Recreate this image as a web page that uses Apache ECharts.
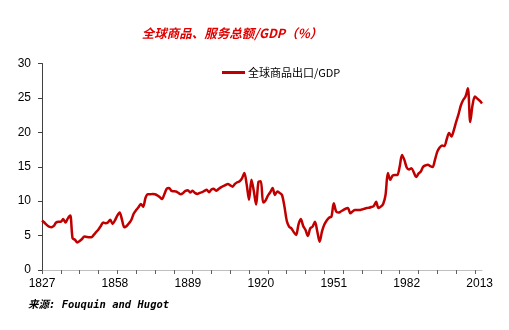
<!DOCTYPE html>
<html>
<head>
<meta charset="utf-8">
<style>html,body{margin:0;padding:0;background:#fff;}#c{width:509px;height:330px;}</style>
<script src="https://cdn.jsdelivr.net/npm/echarts@6/dist/echarts.min.js"></script>
</head>
<body>
<div id="c"></div>
<script>
const years = [];
for (let y = 1827; y <= 2014; y++) years.push(String(y));

const exportsToGDP = [
  // 1827-1836
  7.2, 6.9, 6.55, 6.3, 6.2, 6.4, 6.9, 7.0, 7.0, 7.4,
  // 1837-1846
  6.9, 7.5, 7.9, 4.6, 4.4, 4.0, 4.2, 4.5, 4.85, 4.8,
  // 1847-1856
  4.75, 4.75, 5.1, 5.5, 5.9, 6.4, 6.9, 6.8, 6.9, 7.3,
  // 1857-1866
  6.7, 7.2, 7.9, 8.35, 7.3, 6.2, 6.4, 6.8, 7.3, 8.2,
  // 1867-1876
  8.7, 9.1, 9.6, 9.2, 10.5, 11.0, 11.0, 11.05, 11.0, 10.85,
  // 1877-1886
  10.6, 10.3, 11.0, 11.8, 11.9, 11.5, 11.45, 11.4, 11.2, 11.0,
  // 1887-1896
  11.2, 11.5, 11.6, 11.25, 11.5, 11.2, 11.05, 11.2, 11.3, 11.5,
  // 1897-1906
  11.65, 11.3, 11.7, 11.8, 11.5, 11.75, 12.0, 12.2, 12.35, 12.5,
  // 1907-1916
  12.3, 12.1, 12.5, 12.75, 12.9, 13.3, 14.1, 12.4, 10.2, 13.1,
  // 1917-1926
  11.5, 9.5, 12.8, 12.9, 9.8, 10.1, 10.8, 11.3, 11.9, 10.9,
  // 1927-1936
  11.4, 11.2, 10.9, 9.3, 7.2, 6.3, 6.05, 5.5, 5.1, 6.6,
  // 1937-1946
  7.4, 6.4, 5.8, 4.95, 6.05, 6.3, 7.0, 5.6, 4.1, 5.6,
  // 1947-1956
  6.6, 7.2, 7.6, 7.75, 9.7, 8.5, 8.35, 8.5, 8.7, 8.9,
  // 1957-1966
  9.0, 8.25, 8.5, 8.7, 8.7, 8.7, 8.8, 8.9, 9.0, 9.05,
  // 1967-1976
  9.15, 9.3, 9.9, 9.0, 9.2, 9.6, 10.9, 14.1, 13.1, 13.7,
  // 1977-1986
  13.8, 13.8, 15.0, 16.7, 16.0, 14.9, 14.6, 14.8, 14.2, 13.5,
  // 1987-1996
  14.0, 14.3, 15.0, 15.2, 15.3, 15.1, 14.95, 16.0, 17.2, 17.8,
  // 1997-2006
  18.1, 18.0, 19.0, 19.9, 19.4, 20.3, 21.5, 22.6, 23.9, 24.7,
  // 2007-2014
  25.2, 26.4, 21.5, 24.0, 25.2, 24.9, 24.6, 24.2
];

const yTicks = [0, 5, 10, 15, 20, 25, 30];
const titleText = '全球商品、服务总额/GDP（%）';
const seriesName = '全球商品出口/GDP';
const sourceText = '来源: Fouquin and Hugot';

const chart = echarts.init(document.getElementById('c'), null, {renderer: 'canvas'});
chart.setOption({
  animation: false,
  backgroundColor: '#fff',
  title: [
    {
      text: titleText,
      left: 227, top: 22, textAlign: 'center',
      textStyle: {color: '#e00000', fontSize: 12.5, fontStyle: 'italic', fontWeight: 'bold',
        fontFamily: '"Noto Sans CJK SC", sans-serif'}
    },
    {
      text: sourceText,
      left: 23, top: 295,
      textStyle: {color: '#000', fontSize: 10.5, fontStyle: 'italic', fontWeight: 'bold',
        fontFamily: '"DejaVu Sans Mono", "Noto Sans CJK SC", monospace'}
    }
  ],
  legend: {
    left: 217, top: 62,
    icon: 'rect',
    itemWidth: 23, itemHeight: 3, itemGap: 4,
    textStyle: {color: '#000', fontSize: 11, padding: [0, 0, 0, -2],
      fontFamily: '"Noto Sans CJK SC", "Liberation Sans", sans-serif'},
    data: [seriesName]
  },
  grid: {left: 42, right: 27, top: 63.5, bottom: 60, containLabel: false},
  xAxis: {
    type: 'category',
    data: years,
    boundaryGap: false,
    axisLine: {lineStyle: {color: '#bfbfbf', width: 1}},
    axisTick: {interval: 7, length: 4, lineStyle: {color: '#606060'}},
    axisLabel: {interval: 30, color: '#000', fontSize: 12, margin: 8,
      fontFamily: '"Liberation Sans", Arial, sans-serif'},
    splitLine: {show: false}
  },
  yAxis: {
    type: 'value',
    min: yTicks[0], max: yTicks[yTicks.length - 1], interval: 5,
    axisLine: {show: true, lineStyle: {color: '#404040', width: 1}},
    axisTick: {show: true, length: 4, inside: false, lineStyle: {color: '#404040'}},
    axisLabel: {color: '#000', fontSize: 12, margin: 11,
      fontFamily: '"Liberation Sans", Arial, sans-serif'},
    splitLine: {show: false}
  },
  series: [{
    name: seriesName,
    type: 'line',
    data: exportsToGDP,
    symbol: 'none',
    smooth: 0.3,
    lineStyle: {color: '#c00000', width: 2.5},
    itemStyle: {color: '#c00000'}
  }]
});
</script>
</body>
</html>
